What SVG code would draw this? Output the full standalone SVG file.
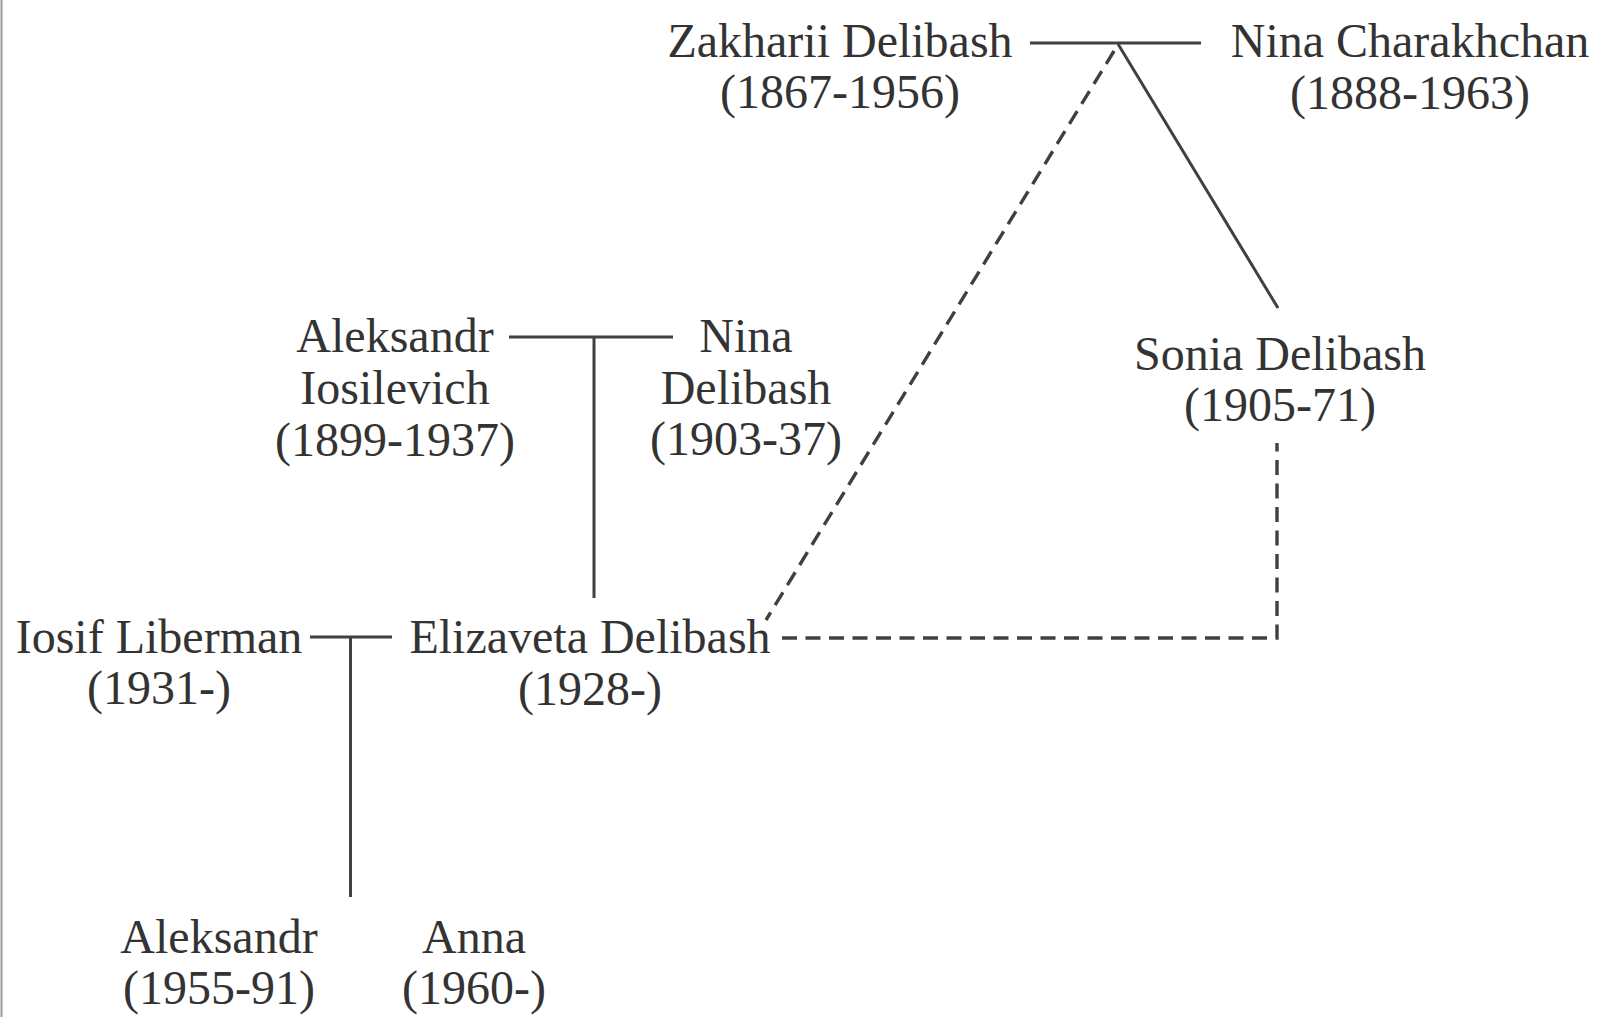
<svg xmlns="http://www.w3.org/2000/svg" width="1612" height="1017" viewBox="0 0 1612 1017">
<style>
text{font-family:"Liberation Serif","Times New Roman",serif;font-size:48px;fill:#333;text-anchor:middle}
.s{stroke:#404040;stroke-width:3;fill:none}
.d{stroke:#404040;stroke-width:3.4;fill:none;stroke-dasharray:15 8.5}
</style>
<rect width="1612" height="1017" fill="#fff"/>
<line x1="1.5" y1="0" x2="1.5" y2="1017" stroke="#9a9a9a" stroke-width="2"/>
<g id="connectors">
<line class="s" x1="1030" y1="43" x2="1201" y2="43"/>
<line class="s" x1="1118" y1="44" x2="1278" y2="308"/>
<line class="d" x1="1114" y1="51" x2="766" y2="620"/>
<polyline class="d" points="782,638 1277,638 1277,443"/>
<line class="s" x1="509" y1="337" x2="673" y2="337"/>
<line class="s" x1="594" y1="337" x2="594" y2="598"/>
<line class="s" x1="310" y1="637" x2="392" y2="637"/>
<line class="s" x1="350.5" y1="637" x2="350.5" y2="897"/>
</g>
<g id="zakharii"><text x="840" y="57">Zakharii Delibash</text><text x="840" y="108">(1867-1956)</text></g>
<g id="nina-charakhchan"><text x="1410" y="57">Nina Charakhchan</text><text x="1410" y="109">(1888-1963)</text></g>
<g id="aleksandr-iosilevich"><text x="395" y="352">Aleksandr</text><text x="395" y="404">Iosilevich</text><text x="395" y="456">(1899-1937)</text></g>
<g id="nina-delibash"><text x="746" y="352">Nina</text><text x="746" y="404">Delibash</text><text x="746" y="455">(1903-37)</text></g>
<g id="sonia"><text x="1280" y="370">Sonia Delibash</text><text x="1280" y="421">(1905-71)</text></g>
<g id="iosif"><text x="159" y="653">Iosif Liberman</text><text x="159" y="704">(1931-)</text></g>
<g id="elizaveta"><text x="590" y="653">Elizaveta Delibash</text><text x="590" y="705">(1928-)</text></g>
<g id="aleksandr-son"><text x="219" y="953">Aleksandr</text><text x="219" y="1004">(1955-91)</text></g>
<g id="anna"><text x="474" y="953">Anna</text><text x="474" y="1004">(1960-)</text></g>
</svg>
